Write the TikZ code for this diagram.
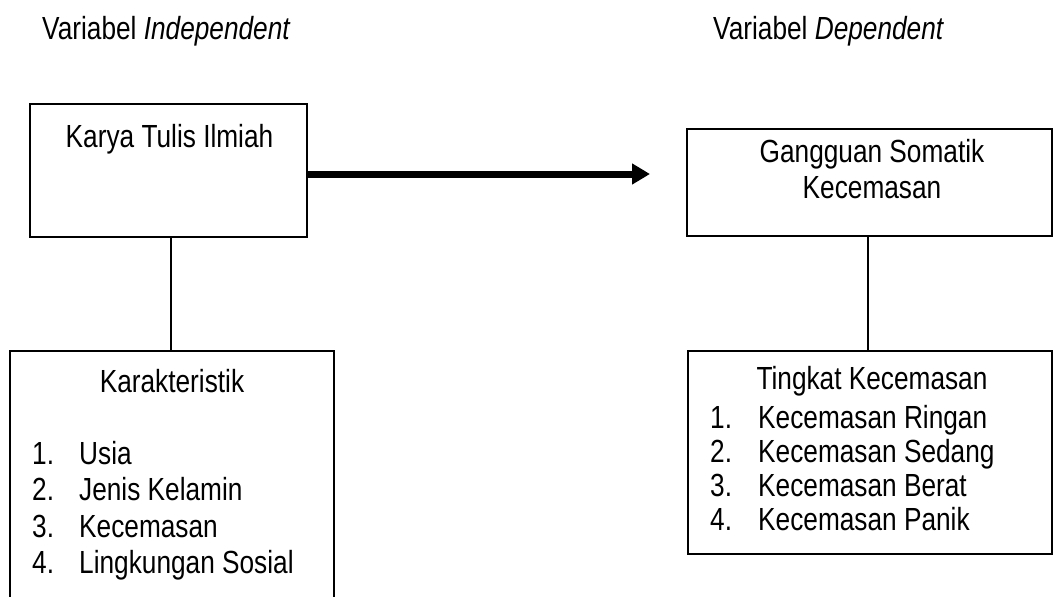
\documentclass[tikz,border=0pt]{standalone}
\usepackage{fontspec}
\setmainfont{Liberation Sans}[FakeStretch=0.82]
\usetikzlibrary{arrows.meta}
\begin{document}
\begin{tikzpicture}[x=1pt,y=-1pt,
  box/.style={draw, line width=1.8pt, inner sep=0pt, rectangle},
  txt/.style={inner sep=0pt, anchor=base, font=\fontsize{32}{37}\selectfont},
  itm/.style={inner sep=0pt, anchor=base west, font=\fontsize{32}{37}\selectfont},
  conn/.style={line width=1.6pt},
  bigarrow/.style={line width=7pt, -{Triangle[length=18pt,width=20pt]}}]
\useasboundingbox (0,0) rectangle (1053,597);
\clip (0,0) rectangle (1053,597);

% titles
\node[itm] (tin) at (42,39) {Variabel \textit{Independent}};
\node[itm] (tde) at (713,39) {Variabel \textit{Dependent}};

% boxes
\node[box, minimum width=277pt, minimum height=133pt] (k) at (168.5,170.5) {};
\node[box, minimum width=324pt, minimum height=299pt] (c) at (172,500.5) {};
\node[box, minimum width=365pt, minimum height=107pt] (g) at (869.5,182.5) {};
\node[box, minimum width=364pt, minimum height=203pt] (t) at (870,452.5) {};

% box texts
\node[txt] (kt) at (169.5,147) {Karya Tulis Ilmiah};
\node[txt] (gt1) at (872,162) {Gangguan Somatik};
\node[txt] (gt2) at (872,198) {Kecemasan};
\node[txt] (ct) at (172,392) {Karakteristik};
\node[txt] (tt) at (872,389) {Tingkat Kecemasan};

% left list
\node[itm] (cn1) at (32,464) {1.};
\node[itm] (ci1) at (79,464) {Usia};
\node[itm] (cn2) at (32,500) {2.};
\node[itm] (ci2) at (79,500) {Jenis Kelamin};
\node[itm] (cn3) at (32,537) {3.};
\node[itm] (ci3) at (79,537) {Kecemasan};
\node[itm] (cn4) at (32,573) {4.};
\node[itm] (ci4) at (79,573) {Lingkungan Sosial};

% right list
\node[itm] (tn1) at (710,428) {1.};
\node[itm] (ti1) at (758,428) {Kecemasan Ringan};
\node[itm] (tn2) at (710,462) {2.};
\node[itm] (ti2) at (758,462) {Kecemasan Sedang};
\node[itm] (tn3) at (710,496) {3.};
\node[itm] (ti3) at (758,496) {Kecemasan Berat};
\node[itm] (tn4) at (710,530) {4.};
\node[itm] (ti4) at (758,530) {Kecemasan Panik};

% connectors
\draw[conn] ([xshift=2.5pt]k.south) -- ([xshift=2.5pt]k.south |- c.north);
\draw[conn] ([xshift=-1.5pt]g.south) -- ([xshift=-1.5pt]g.south |- t.north);
\coordinate (tip) at (650,174);
\draw[bigarrow] (k.east |- tip) -- (tip);
\end{tikzpicture}
\end{document}
